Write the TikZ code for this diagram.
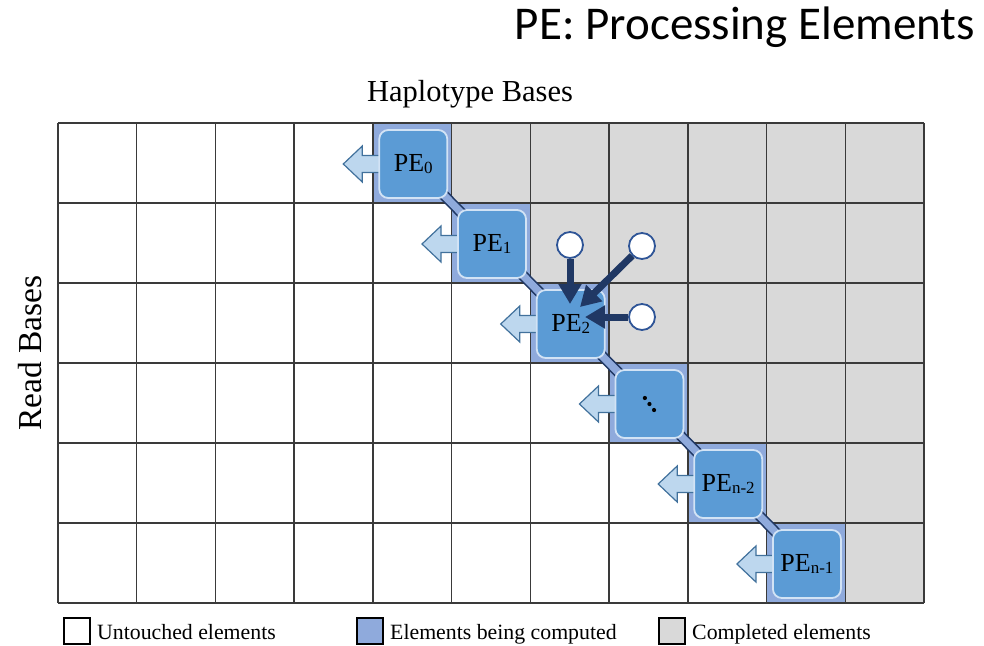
\documentclass[tikz,border=0pt]{standalone}
\usepackage{fontspec}
\setmainfont{Liberation Serif}
\newfontfamily\titlefont{Carlito}
\usetikzlibrary{arrows.meta,calc}

\definecolor{gridline}{HTML}{3A3A3A}
\definecolor{doneGray}{HTML}{D9D9D9}
\definecolor{activeBlue}{HTML}{8FAADC}
\definecolor{peFill}{HTML}{5B9BD5}
\definecolor{peEdge}{HTML}{D2E3F5}
\definecolor{shiftFill}{HTML}{BDD7EE}
\definecolor{shiftEdge}{HTML}{41719C}
\definecolor{navy}{HTML}{203864}
\definecolor{ringEdge}{HTML}{2F5597}

% small lowered index used in the PE labels
\newcommand\peidx[1]{{\fontsize{17}{17}\selectfont\raisebox{-2.5pt}{#1}}}

\tikzset{
  pebox/.style={draw=peEdge, fill=peFill, line width=1.8pt, rounded corners=9pt,
    minimum width=68pt, minimum height=68pt, inner sep=0pt,
    font=\fontsize{26}{26}\selectfont},
  shiftarrow/.style={draw=shiftEdge, fill=shiftFill, line width=1.2pt, line join=miter},
  peLink/.style={draw=navy, line width=1.6pt, double=activeBlue, double distance=7.5pt},
  ring/.style={circle, draw=ringEdge, fill=white, line width=1.8pt, minimum size=26pt, inner sep=0pt},
  feed/.style={draw=navy, line width=7pt, -{Triangle[length=20pt,width=22pt]}},
  keybox/.style={draw=black, line width=1.6pt, minimum width=26pt, minimum height=26pt, inner sep=0pt},
  keytext/.style={anchor=base west, font=\fontsize{21.8}{21.8}\selectfont, inner sep=0pt},
}

\begin{document}
\begin{tikzpicture}[x=1pt,y=-1pt]
\useasboundingbox (0,0) rectangle (984,645);

\def\gx{58}\def\gy{123}\def\cw{78.727}\def\rh{80}

% cell fills: completed cells to the right of the active diagonal, active cell on it
\foreach \r in {0,...,5}{
  \pgfmathsetmacro\ya{\gy+\r*\rh}
  \pgfmathsetmacro\yb{\gy+(\r+1)*\rh}
  \pgfmathsetmacro\xa{\gx+(4+\r)*\cw}
  \pgfmathsetmacro\xb{\gx+(5+\r)*\cw}
  \fill[doneGray] (\xb,\ya) rectangle (924,\yb);
  \fill[activeBlue] (\xa,\ya) rectangle (\xb,\yb);
}

% grid lines
\foreach \c in {0,...,11}{
  \pgfmathsetmacro\xx{\gx+\c*\cw}
  \draw[gridline, line width=1.4pt] (\xx,\gy) -- (\xx,603);
}
\foreach \r in {0,...,6}{
  \pgfmathsetmacro\yy{\gy+\r*\rh}
  \draw[gridline, line width=1.4pt] (\gx,\yy) -- (924,\yy);
}

% processing element positions
\foreach \r in {0,...,5}{
  \pgfmathsetmacro\cx{\gx+(4.5+\r)*\cw+1}
  \pgfmathsetmacro\cy{\gy+(0.5+\r)*\rh+1}
  \coordinate (p\r) at (\cx,\cy);
}

% links between consecutive processing elements
\foreach \a/\b in {0/1,1/2,2/3,3/4,4/5}{
  \draw[peLink] (p\a) -- (p\b);
}

% shift arrows pointing left out of each element
\foreach \r in {0,...,5}{
  \draw[shiftarrow] ($(p\r)+(-31,-8.5)$) -- ++(-20,0) -- ++(0,-9.5) -- ++(-19,18)
     -- ++(19,18) -- ++(0,-9.5) -- ++(20,0) -- cycle;
}

% processing elements
\node[pebox] (pe0) at (p0) {PE\peidx{0}};
\node[pebox] (pe1) at (p1) {PE\peidx{1}};
\node[pebox] (pe2) at (p2) {PE\peidx{2}};
\node[pebox] (pe3) at (p3) {};
\node[pebox] (pe4) at (p4) {PE\peidx{n-2}};
\node[pebox] (pe5) at (p5) {PE\peidx{n-1}};
% diagonal ellipsis in the middle element
\foreach \d in {-1,0,1}{
  \fill[black] ($(pe3.center)+(\d*4.6,\d*6)$) circle (2.1pt);
}

% dependency inputs of PE2
\node[ring] (up) at (570,245) {};
\node[ring] (diag) at (642,246) {};
\node[ring] (side) at (642,317) {};
\coordinate (upTip) at (570,304);
\coordinate (diagTip) at (580,307);
\coordinate (sideTip) at (585,317);
\draw[feed] (up) -- (upTip);
\draw[feed] (diag) -- (diagTip);
\draw[feed] (side) -- (sideTip);

% axis titles
\node[font=\fontsize{30.5}{30.5}\selectfont] (hap) at (470,94) {Haplotype Bases};
\node[font=\fontsize{33.5}{33.5}\selectfont, rotate=90] (read) at (30,353) {Read Bases};
\node[font=\titlefont\fontsize{47}{47}\selectfont, anchor=east, inner sep=0pt] (title) at (975,27) {PE: Processing Elements};

% legend
\node[keybox, fill=white] (k1) at (77,631) {};
\node[keytext] (t1) at (97,639) {Untouched elements};
\node[keybox, fill=activeBlue] (k2) at (370,631) {};
\node[keytext] (t2) at (390,639) {Elements being computed};
\node[keybox, fill=doneGray] (k3) at (672,631) {};
\node[keytext] (t3) at (692,639) {Completed elements};
\end{tikzpicture}
\end{document}
